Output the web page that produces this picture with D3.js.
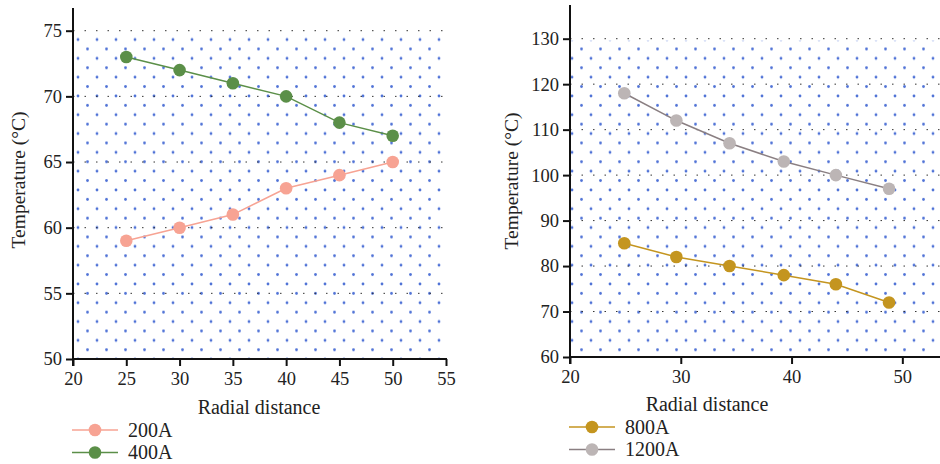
<!DOCTYPE html>
<html>
<head>
<meta charset="UTF-8" />
<style>
  body { margin: 0; background: #fff; }
  svg text { font-family: "Liberation Serif", "DejaVu Serif", serif; fill: #222; }
</style>
</head>
<body>
<svg id="chart" width="940" height="464"></svg>
<script src="https://d3js.org/d3.v7.min.js"></script>
<script>
// left panel data
const xLeft = [25, 30, 35, 40, 45, 50]
const y200A = [59, 60, 61, 63, 64, 65]
const y400A = [73, 72, 71, 70, 68, 67]
const xTicksLeft = [20, 25, 30, 35, 40, 45, 50, 55]
const yTicksLeft = [50, 55, 60, 65, 70, 75]

// right panel data
const xRight = [24.9, 29.6, 34.4, 39.3, 44.0, 48.8]
const y800A = [85, 82, 80, 78, 76, 72]
const y1200A = [118, 112, 107, 103, 100, 97]
const xTicksRight = [20, 30, 40, 50]
const yTicksRight = [60, 70, 80, 90, 100, 110, 120, 130]

const svg = d3.select('#chart')

// staggered blue dot fill
const defs = svg.append('defs')
const pat = defs.append('pattern')
  .attr('id', 'dots')
  .attr('patternUnits', 'userSpaceOnUse')
  .attr('width', 19).attr('height', 18.8)
pat.append('circle').attr('cx', 2).attr('cy', 2).attr('r', 1.4).attr('fill', '#4f72d6')
pat.append('circle').attr('cx', 11.5).attr('cy', 11.4).attr('r', 1.4).attr('fill', '#4f72d6')

function panel(opt) {
  const x = d3.scaleLinear().domain(opt.xDomain).range([opt.x0, opt.x1])
  const y = d3.scaleLinear().domain(opt.yDomain).range([opt.y0, opt.y1])
  const g = svg.append('g')

  // background dots
  g.append('rect')
    .attr('x', opt.x0 + 1).attr('y', y(opt.yDomain[1]) + 2)
    .attr('width', opt.fillRight - opt.x0 - 1)
    .attr('height', opt.y0 - y(opt.yDomain[1]) - 3)
    .attr('fill', 'url(#dots)')

  // dotted grid lines
  g.selectAll('.grid').data(opt.yTicks.slice(1)).enter().append('line')
    .attr('x1', opt.x0).attr('x2', opt.fillRight)
    .attr('y1', d => y(d)).attr('y2', d => y(d))
    .attr('stroke', '#333').attr('stroke-width', 1)
    .attr('stroke-dasharray', '1.5,10')

  // axes
  const xAxis = g.append('g').attr('transform', `translate(0,${opt.y0})`)
    .call(d3.axisBottom(x).tickValues(opt.xTicks).tickSize(7).tickSizeOuter(0).tickPadding(6))
  const yAxis = g.append('g').attr('transform', `translate(${opt.x0},0)`)
    .call(d3.axisLeft(y).tickValues(opt.yTicks).tickSize(7).tickSizeOuter(0).tickPadding(4))
  for (const a of [xAxis, yAxis]) {
    a.select('.domain').remove()
    a.selectAll('line').attr('stroke', '#111').attr('stroke-width', 2)
    a.selectAll('text').style('font-size', '18.5px').attr('fill', '#222')
  }
  g.append('line').attr('x1', opt.x0).attr('x2', opt.axisRight)
    .attr('y1', opt.y0).attr('y2', opt.y0).attr('stroke', '#111').attr('stroke-width', 2)
  g.append('line').attr('x1', opt.x0).attr('x2', opt.x0)
    .attr('y1', opt.y0 + 7).attr('y2', opt.axisTop).attr('stroke', '#111').attr('stroke-width', 2)

  // titles
  g.append('text').attr('x', opt.xLabelX).attr('y', opt.xLabelY)
    .attr('text-anchor', 'middle').style('font-size', '20px').text('Radial distance')
  g.append('text')
    .attr('transform', `translate(${opt.yLabelX},${opt.yLabelY}) rotate(-90)`)
    .attr('text-anchor', 'middle').style('font-size', '19.5px').text('Temperature (°C)')

  // series
  const line = d3.line().x(d => x(d[0])).y(d => y(d[1]))
  opt.series.forEach((s, i) => {
    const pts = opt.xs.map((v, j) => [v, s.values[j]])
    g.append('path').datum(pts).attr('d', line)
      .attr('fill', 'none').attr('stroke', s.line).attr('stroke-width', 1.5)
    g.selectAll(null).data(pts).enter().append('circle')
      .attr('cx', d => x(d[0])).attr('cy', d => y(d[1])).attr('r', 6.3)
      .attr('fill', s.marker)

    // legend
    const ly = opt.legendY + i * 22.5
    g.append('line').attr('x1', opt.legendX).attr('x2', opt.legendX + 46)
      .attr('y1', ly).attr('y2', ly).attr('stroke', s.line).attr('stroke-width', 1.5)
    g.append('circle').attr('cx', opt.legendX + 23).attr('cy', ly).attr('r', 6.3).attr('fill', s.marker)
    g.append('text').attr('x', opt.legendX + 56).attr('y', ly + 6.5)
      .style('font-size', '20px').text(s.name)
  })
}

panel({
  xDomain: [20, 55], yDomain: [50, 75],
  x0: 73, x1: 446, y0: 359, y1: 30.7,
  fillRight: 446, axisRight: 447, axisTop: 8,
  xTicks: xTicksLeft, yTicks: yTicksLeft, xs: xLeft,
  xLabelX: 259, xLabelY: 414, yLabelX: 25, yLabelY: 180,
  legendX: 72, legendY: 430,
  series: [
    { name: '200A', values: y200A, line: '#f7a393', marker: '#f7a393' },
    { name: '400A', values: y400A, line: '#5b8f48', marker: '#5b8f48' }
  ]
})

panel({
  xDomain: [20, 53.4], yDomain: [60, 130],
  x0: 570, x1: 940, y0: 357, y1: 38.7,
  fillRight: 940, axisRight: 940, axisTop: 5,
  xTicks: xTicksRight, yTicks: yTicksRight, xs: xRight,
  xLabelX: 707, xLabelY: 411, yLabelX: 518, yLabelY: 181,
  legendX: 569, legendY: 427,
  series: [
    { name: '800A', values: y800A, line: '#c4951f', marker: '#c4951f' },
    { name: '1200A', values: y1200A, line: '#8a7f82', marker: '#bcb5b5' }
  ]
})
</script>
</body>
</html>
